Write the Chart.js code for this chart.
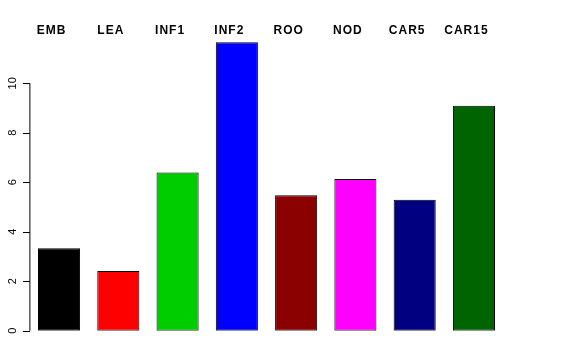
<!DOCTYPE html>
<html lang="en">
<head>
    <meta charset="UTF-8">
    <title>Bar chart</title>
    <style>
        body { margin: 0; background: #fff; }
        #wrap { width: 576px; height: 360px; }
    </style>
</head>
<body>
    <div id="wrap"><canvas id="chart" width="576" height="360"></canvas></div>

    <script src="https://cdn.jsdelivr.net/npm/chart.js"></script>
    <script>
        // data
        const categories = ['EMB', 'LEA', 'INF1', 'INF2', 'ROO', 'NOD', 'CAR5', 'CAR15'];
        const values = [3.33, 2.41, 6.39, 11.66, 5.48, 6.13, 5.29, 9.09];
        const barColors = ['#000000', '#ff0000', '#00cd00', '#0000ff', '#8b0000', '#ff00ff', '#000080', '#006400'];
        const yTicks = [0, 2, 4, 6, 8, 10];

        // R-style axis on the left + labels above each bar
        const rAxes = {
            id: 'rAxes',
            afterDraw(chart) {
                const ctx = chart.ctx;
                const x = chart.scales.x, y = chart.scales.y;
                const axisX = chart.chartArea.left + 0.5;
                ctx.save();
                ctx.strokeStyle = '#000';
                ctx.lineWidth = 1;
                ctx.beginPath();
                ctx.moveTo(axisX, y.getPixelForValue(yTicks[0]));
                ctx.lineTo(axisX, y.getPixelForValue(yTicks[yTicks.length - 1]));
                yTicks.forEach(t => {
                    const py = Math.round(y.getPixelForValue(t)) + 0.5;
                    ctx.moveTo(axisX, py);
                    ctx.lineTo(axisX - 7, py);
                });
                ctx.stroke();

                ctx.fillStyle = '#000';
                ctx.font = '11px "Liberation Sans", Arial, sans-serif';
                ctx.textAlign = 'center';
                ctx.textBaseline = 'middle';
                yTicks.forEach(t => {
                    ctx.save();
                    ctx.translate(13, y.getPixelForValue(t));
                    ctx.rotate(-Math.PI / 2);
                    ctx.fillText(String(t), 0, 0);
                    ctx.restore();
                });

                ctx.font = 'bold 12px "Liberation Sans", Arial, sans-serif';
                ctx.letterSpacing = '1px';
                ctx.textBaseline = 'alphabetic';
                chart.data.labels.forEach((lab, i) => {
                    ctx.fillText(lab, x.getPixelForValue(i) - 7.5, 34);
                });
                ctx.restore();
            }
        };

        new Chart(document.getElementById('chart'), {
            type: 'bar',
            data: {
                labels: categories,
                datasets: [{
                    data: values,
                    backgroundColor: barColors,
                    borderColor: '#000',
                    borderWidth: 1,
                    borderSkipped: false,
                    barPercentage: 0.71,
                    categoryPercentage: 1
                }]
            },
            options: {
                responsive: false,
                animation: false,
                layout: { padding: { left: 29.4, right: 72.4, top: 36.3, bottom: 29.3 } },
                plugins: { legend: { display: false }, tooltip: { enabled: false } },
                scales: {
                    x: { display: false },
                    y: { display: false, min: 0, max: 11.9 }
                }
            },
            plugins: [rAxes]
        });
    </script>
</body>
</html>
